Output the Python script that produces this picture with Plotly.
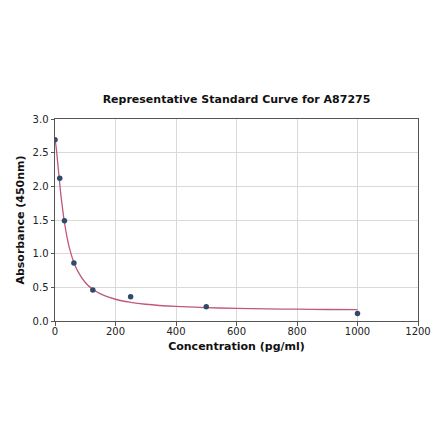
import plotly.graph_objects as go

# Standard points
conc = [0, 15.6, 31.25, 62.5, 125, 250, 500, 1000]
absorb = [2.69, 2.12, 1.49, 0.86, 0.46, 0.36, 0.21, 0.11]

# Fitted curve
curve_x = [0, 2, 5, 10, 15, 20, 25, 30, 40, 50, 62.5, 75, 100, 125, 150, 200,
           250, 300, 400, 500, 600, 700, 800, 900, 1000]
curve_y = [2.68, 2.64, 2.53, 2.30, 2.07, 1.85, 1.67, 1.50, 1.24, 1.045, 0.868,
           0.74, 0.572, 0.47, 0.404, 0.323, 0.278, 0.249, 0.216, 0.198, 0.187,
           0.180, 0.175, 0.171, 0.168]

x_ticks = [0, 200, 400, 600, 800, 1000, 1200]
y_ticks = [0.0, 0.5, 1.0, 1.5, 2.0, 2.5, 3.0]

font = "DejaVu Sans"

W, H = 432, 433

fig = go.Figure()
fig.add_trace(go.Scatter(x=curve_x, y=curve_y, mode="lines",
                         line=dict(color="#c0587e", width=1.3, shape="spline"),
                         hoverinfo="skip", showlegend=False))
fig.add_trace(go.Scatter(x=conc, y=absorb, mode="markers",
                         marker=dict(color="#2f4a6d", size=5.5),
                         showlegend=False))

axis_common = dict(showgrid=True, gridcolor="#d9d9d9", gridwidth=1,
                   showline=True, linecolor="#555555", linewidth=1, mirror=True,
                   ticks="outside", ticklen=3.5, tickcolor="#555555",
                   tickfont=dict(family=font, size=10, color="#222222"),
                   zeroline=False, automargin=False)

fig.update_layout(
    width=W, height=H,
    margin=dict(l=47, r=22, t=111, b=120),
    paper_bgcolor="white", plot_bgcolor="white",
    title=dict(text="<b>Representative Standard Curve for A87275</b>",
               font=dict(family=font, size=11, color="#111111"),
               x=228.5 / W, xanchor="center", y=1 - 91 / H, yanchor="middle"),
    xaxis=dict(range=[0, 1200], tickvals=x_ticks,
               ticktext=[str(v) for v in x_ticks],
               ticklabelstandoff=-3,
               title=dict(text="<b>Concentration (pg/ml)</b>",
                          font=dict(family=font, size=11, color="#111111"),
                          standoff=6),
               **axis_common),
    yaxis=dict(range=[0, 3.0], tickvals=y_ticks,
               ticktext=[f"{v:.1f}" for v in y_ticks],
               title=dict(text="<b>Absorbance (450nm)</b>",
                          font=dict(family=font, size=11, color="#111111"),
                          standoff=5),
               **axis_common),
)

fig.write_html("out.html")
